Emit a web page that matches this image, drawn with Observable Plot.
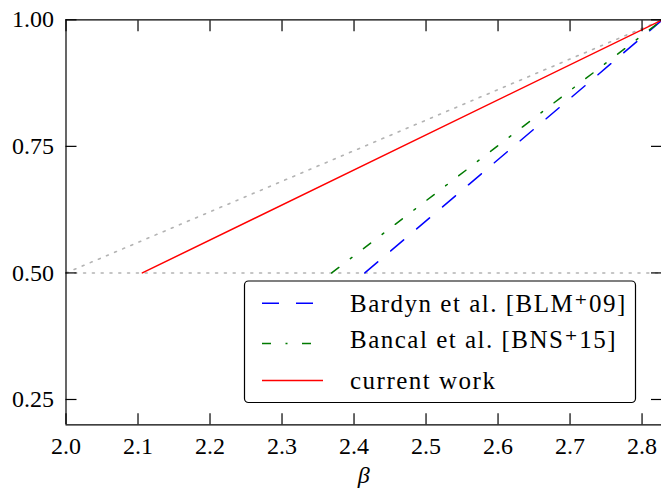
<!DOCTYPE html>
<html>
<head>
<meta charset="utf-8">
<script src="https://cdn.jsdelivr.net/npm/d3@7"></script>
<script src="https://cdn.jsdelivr.net/npm/@observablehq/plot@0.6"></script>
<style>
  html, body { margin: 0; padding: 0; background: #fff; }
  #chart { width: 661px; height: 493px; overflow: hidden; }
  #chart svg, #chart svg text { font-family: "Liberation Serif", "DejaVu Serif", serif !important; }
</style>
</head>
<body>
<div id="chart"></div>
<script>
// ---- data ----
const seriesNames = ["Bardyn et al. [BLM\u207A09]", "Bancal et al. [BNS\u207A15]", "current work"];
const bardynBeta = [2.415, 2.8284];
const bardynValue = [0.5, 1.0];
const bancalBeta = [2.369, 2.8284];
const bancalValue = [0.5, 1.0];
const currentBeta = [2.106, 2.8284];
const currentValue = [0.5, 1.0];
const boundBeta = [2.0, 2.8284];
const diagonalValue = [0.5, 1.0];
const flatValue = [0.5, 0.5];
const xTicks = [2.0, 2.1, 2.2, 2.3, 2.4, 2.5, 2.6, 2.7, 2.8];
const yTicks = [0.25, 0.50, 0.75, 1.00];
const xLabel = "β";

// ---- styles ----
const seriesStyles = [
  {stroke: "#0000ff", dash: "17,17"},
  {stroke: "#007a00", dash: "9,14.5,2,14.5"},
  {stroke: "#ff0000", dash: null}
];
const font = "Liberation Serif, DejaVu Serif, serif";

const zip = (xs, ys) => xs.map((x, i) => ({x, y: ys[i]}));
const seriesData = [zip(bardynBeta, bardynValue), zip(bancalBeta, bancalValue), zip(currentBeta, currentValue)];

const plot = Plot.plot({
  width: 661,
  height: 493,
  marginLeft: 65.5,
  marginRight: 0,
  marginTop: 19.3,
  marginBottom: 68.7,
  style: {fontFamily: font, fontSize: "24px", background: "white", color: "black"},
  x: {domain: [2, 2.8284], range: [65.5, 662]},
  y: {domain: [0.2, 1.0], range: [424.3, 19.3]},
  marks: [
    // reference curves
    Plot.line(zip(boundBeta, flatValue), {x: "x", y: "y", stroke: "#b3b3b3", strokeWidth: 1.6, strokeDasharray: "2,6.8"}),
    Plot.line(zip(boundBeta, diagonalValue), {x: "x", y: "y", stroke: "#b3b3b3", strokeWidth: 1.6, strokeDasharray: "2,6.8"}),
    // series
    ...seriesData.map((d, i) => Plot.line(d, {
      x: "x", y: "y", stroke: seriesStyles[i].stroke, strokeWidth: 1.5,
      strokeDasharray: seriesStyles[i].dash ?? undefined
    })),
    // frame
    Plot.ruleX([boundBeta[0], boundBeta[1]], {stroke: "black", strokeWidth: 1.2}),
    Plot.ruleY([0.2, 1.0], {stroke: "black", strokeWidth: 1.2}),
    // inward ticks
    Plot.axisX(xTicks, {anchor: "bottom", tickSize: -11, text: null, label: null, strokeWidth: 1.2}),
    Plot.axisX(xTicks, {anchor: "top", tickSize: -11, text: null, label: null, strokeWidth: 1.2}),
    Plot.axisY(yTicks, {anchor: "left", tickSize: -11, text: null, label: null, strokeWidth: 1.2}),
    Plot.axisY(yTicks, {anchor: "right", tickSize: -11, text: null, label: null, strokeWidth: 1.2}),
    // tick labels
    Plot.axisX(xTicks, {anchor: "bottom", tickSize: 0, tickPadding: 12, tickFormat: d3.format(".1f"), label: null, fontSize: 24, fontFamily: font}),
    Plot.axisY(yTicks, {anchor: "left", tickSize: 0, tickPadding: 12, tickFormat: d3.format(".2f"), label: null, fontSize: 24, fontFamily: font}),
    // axis label
    Plot.text([xLabel], {text: d => d, frameAnchor: "bottom", dy: 58, fontSize: 24, fontStyle: "italic", fontFamily: font})
  ]
});

document.getElementById("chart").appendChild(plot);

// ---- legend ----
const svg = d3.select(plot);
const lg = svg.append("g").attr("class", "legend");
lg.append("rect")
  .attr("x", 244.5).attr("y", 281).attr("width", 391).attr("height", 121.5)
  .attr("rx", 4).attr("fill", "white").attr("stroke", "black").attr("stroke-width", 1.2);
const lineY = [303.3, 343.5, 380.5];
const textY = [311.5, 347.5, 388.5];
seriesNames.forEach((name, i) => {
  lg.append("line")
    .attr("x1", 262).attr("x2", 323).attr("y1", lineY[i]).attr("y2", lineY[i])
    .attr("stroke", seriesStyles[i].stroke).attr("stroke-width", 1.5)
    .attr("stroke-dasharray", seriesStyles[i].dash);
  lg.append("text")
    .attr("x", 350).attr("y", textY[i])
    .attr("text-anchor", "start")
    .attr("font-family", font)
    .attr("font-size", 25).attr("letter-spacing", 1.5)
    .attr("fill", "black")
    .text(name);
});
</script>
</body>
</html>
